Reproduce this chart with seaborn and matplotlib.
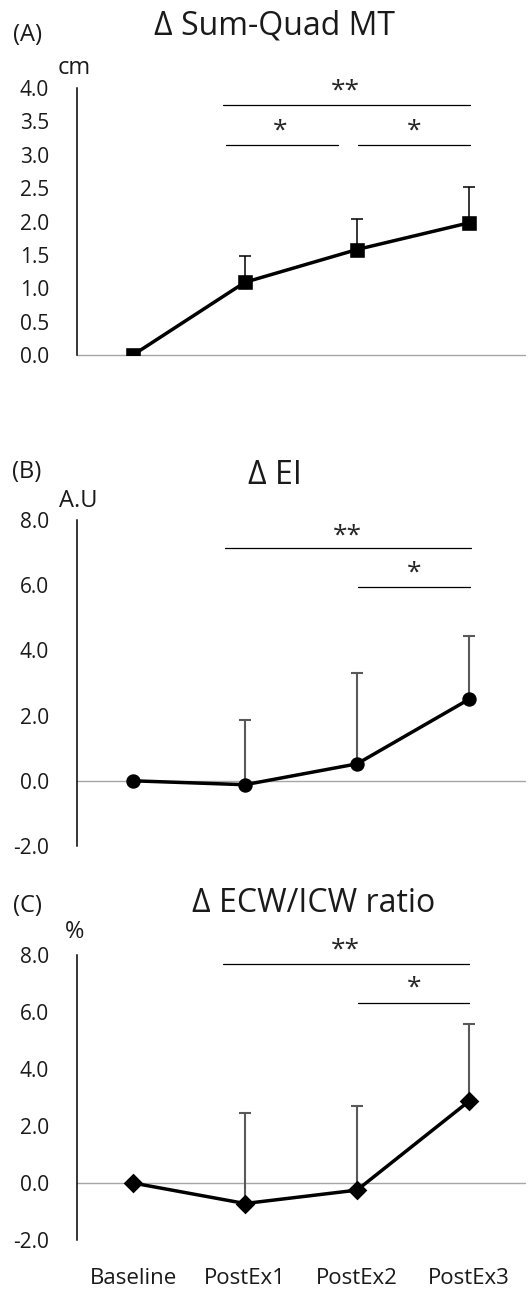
import numpy as np
import pandas as pd
import matplotlib
matplotlib.use("Agg")
import matplotlib.pyplot as plt
import seaborn as sns

# data
times = ["Baseline", "PostEx1", "PostEx2", "PostEx3"]

mt_mean = [0.0, 1.09, 1.58, 1.98]
mt_sd = [0.0, 0.39, 0.45, 0.54]

ei_mean = [0.0, -0.12, 0.52, 2.50]
ei_sd = [0.0, 1.97, 2.78, 1.93]

ecw_mean = [0.0, -0.72, -0.25, 2.87]
ecw_sd = [0.0, 3.17, 2.95, 2.71]

# significance bars: (x start, x end, y, label, label x, label y)
mt_sig = [(0.80, 3.01, 3.75, "**", 1.90, 3.95),
          (0.83, 1.83, 3.15, "*", 1.31, 3.35)]
mt_sig += [(2.01, 3.01, 3.15, "*", 2.51, 3.35)]
ei_sig = [(0.82, 3.02, 7.15, "**", 1.91, 7.52),
          (2.01, 3.01, 5.93, "*", 2.51, 6.36)]
ecw_sig = [(0.80, 3.00, 7.70, "**", 1.90, 8.18),
           (2.01, 3.00, 6.33, "*", 2.51, 6.85)]

sns.set_style("white")
plt.rcParams["font.family"] = ["Open Sans", "DejaVu Sans"]
plt.rcParams["axes.unicode_minus"] = False

W, H = 531, 1293
fig = plt.figure(figsize=(W / 100, H / 100), dpi=100)


def make_ax(top, bottom):
    return fig.add_axes([77 / W, 1 - bottom / H, (525 - 77) / W, (bottom - top) / H])


def panel(ax, mean, sd, marker, msize, ecol, elw, ylim, yticks, sig, show_x):
    df = pd.DataFrame({"time": times, "val": mean})
    idx = np.arange(1, len(times))
    ax.errorbar(idx, np.array(mean)[1:], yerr=[np.zeros(len(idx)), np.array(sd)[1:]],
                fmt="none", ecolor=ecol, elinewidth=elw, capsize=4.5, capthick=elw, zorder=1)
    sns.pointplot(data=df, x="time", y="val", color="black", markers=marker,
                  markersize=msize, linewidth=2.5, errorbar=None, ax=ax, zorder=3)
    ax.set_xlim(-0.5, 3.5)
    ax.set_ylim(*ylim)
    ax.set_yticks(yticks)
    ax.set_yticklabels([f"{t:.1f}" for t in yticks], fontsize=15, color="#1a1a1a")
    ax.tick_params(axis="y", length=0, pad=20)
    ax.tick_params(axis="x", length=0, pad=20)
    ax.set_xlabel("")
    ax.set_ylabel("")
    for s in ["top", "right", "bottom"]:
        ax.spines[s].set_visible(False)
    ax.spines["left"].set_color("black")
    ax.spines["left"].set_linewidth(1.1)
    ax.axhline(0, color="#a6a6a6", lw=1.0, zorder=0, clip_on=False)
    if show_x:
        ax.set_xticks(range(4))
        ax.set_xticklabels(times, fontsize=16, color="#1a1a1a")
    else:
        ax.set_xticklabels([])
    for x0, x1, y, lab, tx, ty in sig:
        ax.plot([x0, x1], [y, y], color="black", lw=0.9, clip_on=False)
        ax.text(tx, ty, lab, ha="center", va="center", fontsize=19, clip_on=False)


axA = make_ax(88, 355)
panel(axA, mt_mean, mt_sd, "s", 9, "black", 1.1, (0, 4),
      [0, 0.5, 1, 1.5, 2, 2.5, 3, 3.5, 4], mt_sig, False)
axB = make_ax(520, 846)
panel(axB, ei_mean, ei_sd, "o", 8.5, "#595959", 1.5, (-2, 8),
      [-2, 0, 2, 4, 6, 8], ei_sig, False)
axC = make_ax(955, 1240)
panel(axC, ecw_mean, ecw_sd, "D", 7.8, "#595959", 1.5, (-2, 8),
      [-2, 0, 2, 4, 6, 8], ecw_sig, True)

# panel letters, titles, units
def ftext(x, y, s, size, **kw):
    fig.text(x / W, 1 - y / H, s, fontsize=size, ha="center", va="center",
             color="#1a1a1a", **kw)

ftext(27, 35, "(A)", 17)
ftext(275, 26, "Δ Sum-Quad MT", 23)
ftext(74, 68, "cm", 17)

ftext(27, 472, "(B)", 17)
ftext(275, 476, "Δ EI", 23)
ftext(78, 501, "A.U", 17)

ftext(27, 906, "(C)", 17)
ftext(314, 904, "Δ ECW/ICW ratio", 23)
ftext(75, 932, "%", 17)

fig.savefig("out.png", dpi=100, facecolor="white")
